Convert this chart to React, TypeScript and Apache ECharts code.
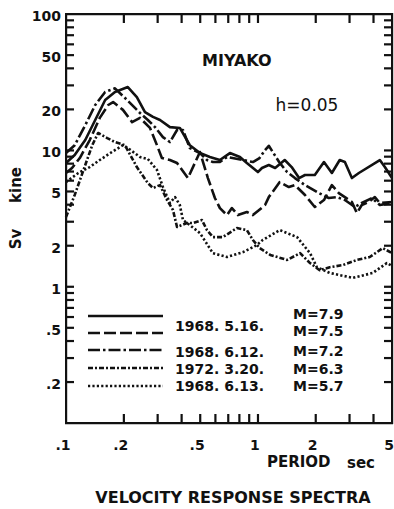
import React, { useEffect, useRef } from "react";
import * as echarts from "echarts";

// Velocity response spectra, MIYAKO station, damping h = 0.05
// Period (sec) and Sv (kine) per record.

const periods1968a = [0.1, 0.111, 0.126, 0.142, 0.16, 0.18, 0.21, 0.234, 0.258, 0.284, 0.309, 0.348, 0.392, 0.442, 0.499, 0.562, 0.634, 0.715, 0.806, 0.876, 1.0, 1.05, 1.14, 1.23, 1.38, 1.5, 1.64, 1.76, 1.98, 2.21, 2.43, 2.67, 2.84, 3.09, 3.36, 4.32, 4.59, 5.0];
const sv1968a = [8.07, 9.24, 11.9, 16.7, 23.4, 26.8, 29.1, 24.6, 19.1, 17.6, 16.7, 14.8, 14.6, 10.9, 9.55, 8.93, 8.49, 9.55, 8.93, 8.07, 6.93, 7.42, 7.8, 7.42, 8.49, 7.54, 6.26, 6.59, 6.59, 8.21, 6.82, 8.49, 8.21, 6.26, 6.82, 8.49, 7.54, 6.26];

const periods1968b = [0.1, 0.1075, 0.118, 0.133, 0.15, 0.166, 0.176, 0.198, 0.221, 0.243, 0.274, 0.298, 0.316, 0.348, 0.379, 0.432, 0.499, 0.549, 0.597, 0.634, 0.69, 0.732, 0.787, 0.876, 0.942, 1.09, 1.14, 1.3, 1.45, 1.56, 1.76, 1.98, 2.21, 2.43, 2.64, 2.84, 3.09, 3.28, 3.48, 3.79, 4.07, 4.32, 5.0];
const sv1968b = [6.82, 7.42, 8.78, 11.9, 17.3, 21.5, 22.6, 19.8, 16.1, 17.3, 14.6, 10.9, 8.78, 8.49, 8.07, 6.26, 9.72, 6.26, 4.47, 3.77, 3.35, 3.77, 3.35, 3.53, 3.35, 3.97, 4.54, 5.85, 5.38, 5.56, 4.7, 3.84, 4.32, 5.56, 4.86, 4.54, 4.18, 3.47, 3.97, 4.18, 4.54, 4.11, 4.18];

const periods0612 = [0.1, 0.111, 0.126, 0.142, 0.16, 0.18, 0.208, 0.243, 0.267, 0.291, 0.32, 0.348, 0.379, 0.407, 0.442, 0.499, 0.543, 0.583, 0.634, 0.69, 0.835, 0.942, 1.02, 1.09, 1.14, 1.29, 1.42, 1.56, 1.76, 2.08, 2.34, 2.58, 2.84, 3.2, 3.48, 3.93, 4.32, 5.0];
const sv0612 = [9.55, 10.9, 15.3, 21.5, 26.8, 28.5, 23.4, 18.8, 16.7, 14.8, 12.5, 11.5, 14.1, 14.1, 10.4, 9.55, 8.49, 8.21, 8.21, 8.93, 8.49, 8.21, 8.78, 10.05, 10.8, 8.21, 6.93, 6.26, 5.56, 4.86, 4.47, 4.54, 4.32, 3.84, 4.11, 4.47, 3.97, 4.11];

const periods1972 = [0.1, 0.111, 0.126, 0.137, 0.147, 0.164, 0.18, 0.203, 0.234, 0.267, 0.284, 0.309, 0.336, 0.361, 0.379, 0.427, 0.459, 0.511, 0.543, 0.583, 0.657, 0.777, 0.876, 0.942, 1.02, 1.16, 1.42, 1.66, 1.87, 2.1, 2.37, 2.77, 3.28, 3.83, 4.48, 5.0];
const sv1972 = [3.24, 4.7, 7.8, 10.9, 13.4, 12.3, 11.5, 10.9, 7.54, 5.75, 5.29, 5.56, 4.32, 3.65, 2.74, 2.93, 2.93, 3.08, 2.6, 2.31, 2.31, 2.69, 2.6, 2.2, 1.92, 1.71, 1.57, 1.76, 1.49, 1.32, 1.39, 1.44, 1.57, 1.65, 1.92, 1.76];

const periods0613 = [0.1, 0.116, 0.133, 0.15, 0.17, 0.198, 0.21, 0.243, 0.267, 0.298, 0.32, 0.348, 0.37, 0.392, 0.407, 0.442, 0.499, 0.583, 0.69, 0.835, 0.988, 1.06, 1.3, 1.6, 1.87, 2.03, 2.37, 3.12, 3.97, 4.7, 5.0];
const sv0613 = [5.85, 6.82, 7.54, 8.49, 9.55, 10.9, 10.4, 8.93, 8.64, 7.17, 5.38, 4.11, 4.54, 3.97, 3.08, 2.83, 2.47, 1.76, 1.65, 1.79, 2.02, 2.2, 2.6, 2.31, 1.76, 1.39, 1.26, 1.16, 1.26, 1.49, 1.42];

const legendDates = ["1968. 5.16.", "1968. 6.12.", "1972. 3.20.", "1968. 6.13."];
const legendMagnitudes = ["M=7.9", "M=7.5", "M=7.2", "M=6.3", "M=5.7"];

const yTicks = [0.2, 0.3, 0.4, 0.5, 0.6, 0.7, 0.8, 0.9, 1, 2, 3, 4, 5, 6, 7, 8, 9, 10, 20, 30, 40, 50, 60, 70, 80, 90];
const yLabelValues = [100, 50, 20, 10, 5, 2, 1, 0.5, 0.2];
const yLabelTexts = ["100", "50", "20", "10", "5", "2", "1", ".5", ".2"];
const xTicks = [0.2, 0.3, 0.4, 0.5, 0.6, 0.7, 0.8, 0.9, 1, 2, 3, 4];
const xLabelValues = [0.1, 0.2, 0.5, 1, 2, 5];
const xLabelTexts = [".1", ".2", ".5", "1", "2", "5"];

const X_MIN = 0.1;
const X_MAX = 5;
const Y_MIN = 0.1;
const Y_MAX = 100;

const INK = "#111";
const FONT = "DejaVu Sans";
const DASH_SOLID: number[] | null = null;
const DASH_LONG = [12, 4];
const DASH_CHAIN = [12, 3, 2.5, 3];
const DASH_FINE_CHAIN = [5, 2, 2, 2];
const DASH_DOT = [2.2, 2.2];

export default function App() {
  const ref = useRef<HTMLDivElement>(null);

  useEffect(() => {
    const el = ref.current;
    if (!el) return;
    const chart = echarts.init(el, null, { renderer: "svg" });

    const pair = (ts: number[], vs: number[]) => ts.map((t, i) => [t, vs[i]]);
    const records = [
      { name: "M=7.9", data: pair(periods1968a, sv1968a), dash: DASH_SOLID },
      { name: "M=7.5", data: pair(periods1968b, sv1968b), dash: DASH_LONG },
      { name: "M=7.2", data: pair(periods0612, sv0612), dash: DASH_CHAIN },
      { name: "M=6.3", data: pair(periods1972, sv1972), dash: DASH_FINE_CHAIN },
      { name: "M=5.7", data: pair(periods0613, sv0613), dash: DASH_DOT },
    ];

    const lineSeries = records.map((r) => ({
      type: "line",
      name: r.name,
      data: r.data,
      showSymbol: false,
      symbol: "none",
      silent: true,
      z: 3,
      lineStyle: {
        color: INK,
        width: 2.6,
        type: r.dash ? r.dash : "solid",
        cap: "butt",
        join: "round",
      },
    }));

    const axisOff = {
      axisLine: { show: false },
      axisTick: { show: false },
      axisLabel: { show: false },
      splitLine: { show: false },
    };

    chart.setOption({
      animation: false,
      backgroundColor: "#fff",
      grid: { show: false, left: 66, top: 14, right: 2, bottom: 86 },
      xAxis: { type: "log", logBase: 10, min: X_MIN, max: X_MAX, ...axisOff },
      yAxis: { type: "log", logBase: 10, min: Y_MIN, max: Y_MAX, ...axisOff },
      series: lineSeries,
    });

    // pixel positions through the chart's own log scales
    const px = (x: number, y: number) => chart.convertToPixel({ gridIndex: 0 }, [x, y]) as number[];
    const left = px(X_MIN, 1)[0];
    const right = px(X_MAX, 1)[0];
    const top = px(1, Y_MAX)[1];
    const bottom = px(1, Y_MIN)[1];

    const bar = (x: number, y: number, w: number, h: number) => ({
      type: "rect",
      silent: true,
      z: 50,
      shape: { x, y, width: w, height: h },
      style: { fill: INK, stroke: null },
    });

    // frame drawn as four solid bars, ticks as short bars pointing inward
    const frame = [
      bar(left - 1, top - 1, right - left + 2, 2.2),
      bar(left - 1, bottom - 1, right - left + 2, 2.2),
      bar(left - 1, top - 1, 2.2, bottom - top + 2),
      bar(right - 1, top - 1, 2.2, bottom - top + 2),
    ];
    const ticks: any[] = [];
    yTicks.forEach((v) => {
      const y = px(1, v)[1];
      ticks.push(bar(left, y - 1, 8, 2.2), bar(right - 8, y - 1, 8, 2.2));
    });
    xTicks.forEach((v) => {
      const x = px(v, 1)[0];
      ticks.push(bar(x - 1, bottom - 9, 2.2, 9), bar(x - 1, top, 2.2, 9));
    });

    const text = (t: string, x: number, y: number, size: number, weight: string, align = "left", rotation = 0) => ({
      type: "text",
      x,
      y,
      rotation,
      silent: true,
      style: {
        text: t,
        fontFamily: FONT,
        fontSize: size,
        fontWeight: weight,
        lineHeight: size,
        fill: INK,
        align,
        verticalAlign: "middle",
        textAlign: align,
        textVerticalAlign: "middle",
      },
    });

    const yLabels = yLabelValues.map((v, i) => text(yLabelTexts[i], left - 5, px(1, v)[1] + 2, 14, "bold", "right"));
    const xLabels = xLabelValues.map((v, i) => text(xLabelTexts[i], px(v, 1)[0] - 3, bottom + 22, 14, "bold", "center"));

    const legendRows = [316, 333, 350, 368, 386];
    const legendLines = records.map((r, i) => ({
      type: "line",
      silent: true,
      shape: { x1: 88, y1: legendRows[i], x2: 163, y2: legendRows[i] },
      style: { stroke: INK, lineWidth: 2.6, lineDash: r.dash ? r.dash : null },
    }));
    const dateRows = [326, 352, 369, 386];
    const magnitudeRows = [314, 331, 351, 369, 386];

    chart.setOption({
      graphic: {
        elements: [
          ...legendLines,
          ...frame,
          ...ticks,
          ...yLabels,
          ...xLabels,
          text("MIYAKO", 202, 60, 16, "bold"),
          text("h=0.05", 307, 105, 17, "normal", "center"),
          text("kine", 16, 185, 15, "bold", "center", Math.PI / 2),
          text("Sv", 16, 239, 15, "bold", "center", Math.PI / 2),
          text("PERIOD", 267, 462, 15, "bold"),
          text("sec", 347, 463, 15, "bold"),
          text("VELOCITY RESPONSE SPECTRA", 233, 497, 16, "bold", "center"),
          ...legendDates.map((d, i) => text(d, 175, dateRows[i], 14, "bold")),
          ...legendMagnitudes.map((m, i) => text(m, 293, magnitudeRows[i], 14, "bold")),
        ],
      },
    });

    return () => chart.dispose();
  }, []);

  return (
    <div
      ref={ref}
      style={{ position: "fixed", left: 0, top: 0, width: 394, height: 509, background: "#fff" }}
    />
  );
}
